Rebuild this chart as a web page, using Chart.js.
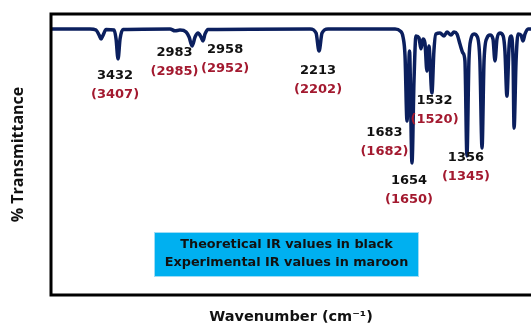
<!DOCTYPE html>
<html><head><meta charset="utf-8">
<script src="https://cdn.jsdelivr.net/npm/chart.js@4.4.1/dist/chart.umd.min.js"></script>
<style>html,body{margin:0;padding:0;background:#fff;overflow:hidden}canvas{display:block}</style>
</head><body>
<canvas id="c" width="531" height="326"></canvas>
<script>
// Spectrum (wavenumber in cm-1, % transmittance)
const wavenumbers = [3836,3601,3565,3546,3534,3522,3504,3456,3444,3432,3420,3402,3119,3089,3059,3022,3004,2986,2968,2950,2932,2920,2908,2890,2275,2239,2221,2203,2167,1763,1733,1715,1703,1691,1676,1661,1649,1637,1619,1607,1595,1583,1571,1559,1541,1529,1517,1492,1468,1450,1426,1408,1390,1372,1354,1342,1330,1318,1306,1287,1270,1252,1239,1227,1209,1191,1173,1161,1149,1131,1112,1101,1089,1076,1064,1052,1046,1034,1022,1004,992,980,962,944];
const transmittance = [94.7,94.7,94.3,92.5,91.1,92.5,94.5,94.3,91.1,84.0,91.1,94.5,94.7,94.0,94.3,93.6,91.8,88.6,91.8,93.2,91.8,90.4,92.9,94.5,94.7,93.2,86.8,93.2,94.7,94.7,94.0,91.8,85.1,61.9,86.8,47.0,76.2,92.2,91.5,87.6,91.1,89.7,79.7,88.6,71.9,86.8,92.9,93.2,92.2,93.6,92.5,93.6,92.9,89.3,86.1,83.3,49.5,83.3,91.1,92.9,92.2,83.3,52.3,83.3,91.5,92.5,91.1,83.3,91.1,93.2,92.2,86.8,70.8,88.6,92.2,83.3,59.4,83.3,92.9,92.5,90.4,92.9,94.7,94.7];

// Peak annotations
const theoreticalPeaks = ['3432','2983','2958','2213','1683','1654','1532','1356'];
const experimentalPeaks = ['(3407)','(2985)','(2952)','(2202)','(1682)','(1650)','(1520)','(1345)'];
const labelWavenumbers = [3450,3092,2787,2227,1827,1679,1525,1336];
const labelTransmittance = [77.9,86.1,87.2,79.7,57.7,40.6,69.0,48.8];

const noteLines = ['Theoretical IR values in black','Experimental IR values in maroon'];
const xAxisTitle = 'Wavenumber (cm\u207B\u00B9)';
const yAxisTitle = '% Transmittance';

const NAVY = '#0b1f5e';
const MAROON = '#a3192f';
const NOTE_BG = '#00b0f0';

const overlay = {
  id: 'overlay',
  afterDatasetsDraw(chart) {
    const {ctx, chartArea: a, scales: {x, y}} = chart;
    ctx.save();
    ctx.strokeStyle = '#000';
    ctx.lineWidth = 3;
    ctx.lineJoin = 'miter';
    ctx.beginPath();
    ctx.moveTo(chart.width + 3, a.top);
    ctx.lineTo(a.left, a.top);
    ctx.lineTo(a.left, a.bottom);
    ctx.lineTo(chart.width + 3, a.bottom);
    ctx.stroke();

    ctx.textAlign = 'center';
    ctx.textBaseline = 'middle';
    ctx.font = 'bold 13px "DejaVu Sans"';
    for (let i = 0; i < theoreticalPeaks.length; i++) {
      const px = x.getPixelForValue(labelWavenumbers[i]);
      const py = y.getPixelForValue(labelTransmittance[i]);
      ctx.fillStyle = '#111';
      ctx.fillText(theoreticalPeaks[i], px, py);
      ctx.fillStyle = MAROON;
      ctx.fillText(experimentalPeaks[i], px, py + 19);
    }

    ctx.fillStyle = NOTE_BG;
    ctx.fillRect(154, 232, 265, 45);
    ctx.strokeStyle = '#9fdcf5';
    ctx.lineWidth = 1;
    ctx.strokeRect(154.5, 232.5, 264, 44);
    ctx.fillStyle = '#111';
    ctx.font = 'bold 12.8px "DejaVu Sans"';
    noteLines.forEach((t, i) => ctx.fillText(t, 286.5, 245 + i * 18));
    ctx.restore();
  }
};

new Chart(document.getElementById('c'), {
  type: 'line',
  data: {
    datasets: [{
      data: wavenumbers.map((w, i) => ({x: w, y: transmittance[i]})),
      borderColor: NAVY,
      borderWidth: 3.5,
      pointRadius: 0,
      fill: false,
      cubicInterpolationMode: 'monotone',
      borderJoinStyle: 'round',
      borderCapStyle: 'round'
    }]
  },
  options: {
    responsive: false,
    animation: false,
    devicePixelRatio: 1,
    layout: {padding: {left: 0, top: 14, right: 0, bottom: 0}},
    plugins: {legend: {display: false}, tooltip: {enabled: false}},
    scales: {
      x: {
        type: 'linear', reverse: true, min: 944, max: 3836,
        grid: {display: false, drawTicks: false}, border: {display: false},
        ticks: {display: false},
        title: {display: true, text: xAxisTitle, color: '#111',
          font: {family: '"DejaVu Sans"', size: 14.5, weight: 'bold', lineHeight: 1.2},
          padding: {top: 13.6, bottom: 0}}
      },
      y: {
        min: 0, max: 100,
        grid: {display: false, drawTicks: false}, border: {display: false},
        ticks: {display: false},
        title: {display: true, text: yAxisTitle, color: '#111',
          font: {family: '"Open Sans"', size: 16, weight: 'bold', lineHeight: 1.2},
          padding: {top: 8.4, bottom: 23.4}}
      }
    }
  },
  plugins: [overlay]
});
</script>
</body></html>
